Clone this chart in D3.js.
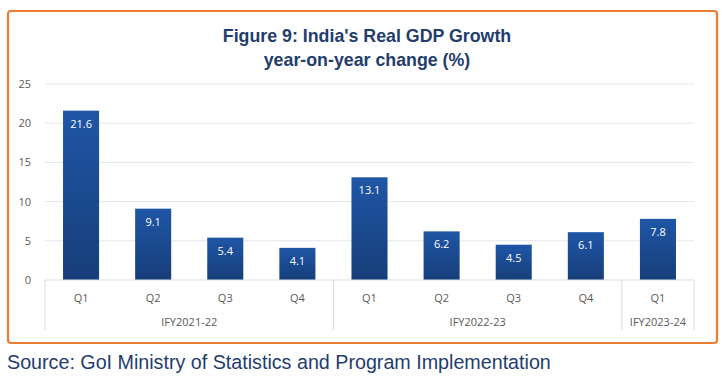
<!DOCTYPE html>
<html>
<head>
<meta charset="utf-8">
<script src="https://cdn.jsdelivr.net/npm/d3@7"></script>
<style>
  body { margin: 0; background: #fff; }
  svg { display: block; }
</style>
</head>
<body>
<svg id="chart" width="722" height="385"></svg>
<script>
// data
const quarters = ["Q1", "Q2", "Q3", "Q4", "Q1", "Q2", "Q3", "Q4", "Q1"];
const fiscalYears = ["IFY2021-22", "IFY2021-22", "IFY2021-22", "IFY2021-22",
                     "IFY2022-23", "IFY2022-23", "IFY2022-23", "IFY2022-23",
                     "IFY2023-24"];
const growth = [21.6, 9.1, 5.4, 4.1, 13.1, 6.2, 4.5, 6.1, 7.8];
const yTicks = [0, 5, 10, 15, 20, 25];

const rows = growth.map((v, i) => ({ i: i, q: quarters[i], fy: fiscalYears[i], v: v }));

const svg = d3.select("#chart");
const labelFont = "'Open Sans', 'DejaVu Sans', sans-serif";

// orange frame
svg.append("rect")
    .attr("x", 8).attr("y", 11)
    .attr("width", 709).attr("height", 332)
    .attr("rx", 3)
    .attr("fill", "#fff")
    .attr("stroke", "#ED7D31")
    .attr("stroke-width", 2.2);

// title
const title = svg.append("text")
    .attr("text-anchor", "middle")
    .attr("fill", "#1F3D6E")
    .style("font-family", "'Liberation Sans', Arial, sans-serif")
    .style("font-weight", "bold")
    .style("font-size", "17.8px");
title.append("tspan").attr("x", 367).attr("y", 42).text("Figure 9: India's Real GDP Growth");
title.append("tspan").attr("x", 367).attr("y", 66).text("year-on-year change (%)");

const x0 = 45, x1 = 694;
const y = d3.scaleLinear().domain([0, 25]).range([280, 84]);
const x = d3.scaleBand().domain(d3.range(rows.length)).range([x0, x1]).paddingInner(0).paddingOuter(0);

// gridlines
svg.append("g").selectAll("line")
    .data(yTicks.filter(t => t > 0))
    .enter().append("line")
    .attr("x1", x0).attr("x2", x1)
    .attr("y1", d => y(d)).attr("y2", d => y(d))
    .attr("stroke", "#E3E6EC").attr("stroke-width", 1);

// y axis labels
const yAxis = d3.axisLeft(y).tickValues(yTicks).tickSize(0).tickPadding(14);
const ya = svg.append("g").attr("transform", `translate(${x0},0)`).call(yAxis);
ya.select(".domain").remove();
ya.selectAll("text")
    .attr("fill", "#595959")
    .style("font-family", labelFont)
    .style("font-size", "11px");

// gradient for bars
const grad = svg.append("defs").append("linearGradient")
    .attr("id", "barGrad").attr("x1", 0).attr("y1", 0).attr("x2", 0).attr("y2", 1);
grad.append("stop").attr("offset", "0%").attr("stop-color", "#1F56A6");
grad.append("stop").attr("offset", "100%").attr("stop-color", "#173E79");

const bw = x.bandwidth() * 0.5;
svg.append("g").selectAll("rect")
    .data(rows)
    .enter().append("rect")
    .attr("x", d => x(d.i) + (x.bandwidth() - bw) / 2)
    .attr("y", d => y(d.v))
    .attr("width", bw)
    .attr("height", d => y(0) - y(d.v))
    .attr("fill", "url(#barGrad)");

// value labels
svg.append("g").selectAll("text")
    .data(rows)
    .enter().append("text")
    .attr("x", d => x(d.i) + x.bandwidth() / 2)
    .attr("y", d => y(d.v) + 17)
    .attr("text-anchor", "middle")
    .attr("fill", "#fff")
    .style("font-family", labelFont)
    .style("font-size", "11px")
    .text(d => d.v.toFixed(1));

// category axis baseline
svg.append("line")
    .attr("x1", x0).attr("x2", x1)
    .attr("y1", y(0)).attr("y2", y(0))
    .attr("stroke", "#D9DDE4");

// quarter labels
svg.append("g").selectAll("text")
    .data(rows)
    .enter().append("text")
    .attr("x", d => x(d.i) + x.bandwidth() / 2)
    .attr("y", 302)
    .attr("text-anchor", "middle")
    .attr("fill", "#595959")
    .style("font-family", labelFont)
    .style("font-size", "11px")
    .text(d => d.q);

// fiscal year groups
const groups = d3.groups(rows, d => d.fy).map(([fy, items]) => ({
    fy: fy,
    start: x(items[0].i),
    end: x(items[items.length - 1].i) + x.bandwidth()
}));

const seps = [x0].concat(groups.map(g => g.end));
svg.append("g").selectAll("line")
    .data(seps)
    .enter().append("line")
    .attr("x1", d => d).attr("x2", d => d)
    .attr("y1", y(0)).attr("y2", 330)
    .attr("stroke", "#D9DDE4");

svg.append("g").selectAll("text")
    .data(groups)
    .enter().append("text")
    .attr("x", d => (d.start + d.end) / 2)
    .attr("y", 326)
    .attr("text-anchor", "middle")
    .attr("fill", "#595959")
    .style("font-family", labelFont)
    .style("font-size", "11px")
    .text(d => d.fy);

// source note
svg.append("text")
    .attr("x", 7).attr("y", 369)
    .attr("fill", "#1F3D6E")
    .style("font-family", "'Liberation Sans', Arial, sans-serif")
    .style("font-size", "19.7px")
    .text("Source: GoI Ministry of Statistics and Program Implementation");
</script>
</body>
</html>
